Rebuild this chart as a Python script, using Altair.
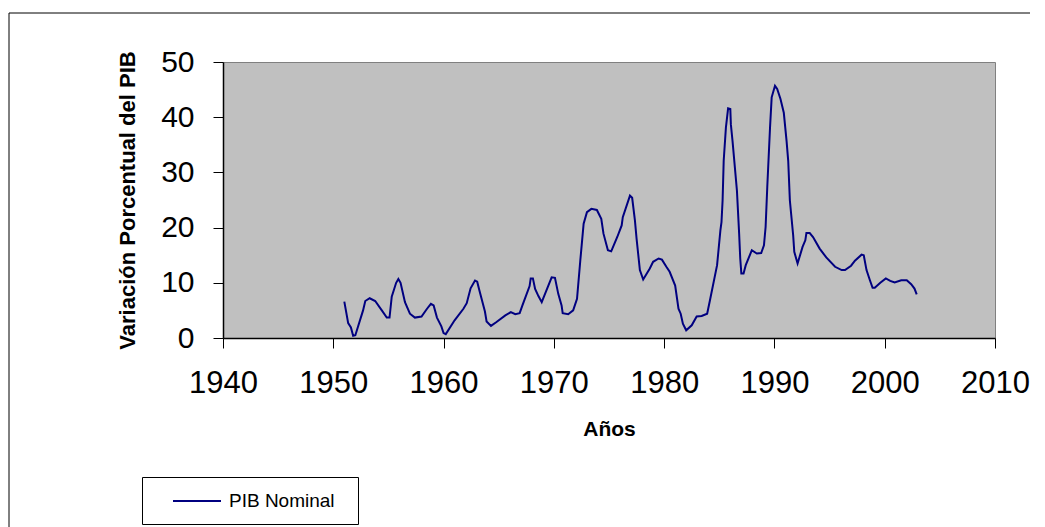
import altair as alt
import pandas as pd

years = [1951.0, 1951.35, 1951.6, 1951.8, 1952.0, 1952.7, 1952.9, 1953.3, 1953.8, 1954.4,
         1954.85, 1955.1, 1955.3, 1955.7, 1955.9, 1956.1, 1956.5, 1956.95, 1957.4, 1958.0,
         1958.5, 1958.85, 1959.1, 1959.4, 1959.8, 1960.0, 1960.2, 1961.0, 1961.8, 1962.1,
         1962.45, 1962.85, 1963.05, 1963.25, 1963.75, 1963.9, 1964.3, 1964.8, 1965.6, 1966.1,
         1966.5, 1966.9, 1967.15, 1967.8, 1967.9, 1968.1, 1968.3, 1968.6, 1968.9, 1969.2,
         1969.8, 1970.1, 1970.4, 1970.7, 1970.8, 1971.3, 1971.75, 1972.1, 1972.4, 1972.7,
         1973.0, 1973.4, 1973.9, 1974.3, 1974.5, 1974.9, 1975.2, 1975.75, 1976.15, 1976.25,
         1976.9, 1977.1, 1977.35, 1977.5, 1977.8, 1978.1, 1978.7, 1979.0, 1979.5, 1979.8,
         1980.2, 1980.5, 1981.0, 1981.3, 1981.5, 1981.7, 1982.0, 1982.5, 1982.95, 1983.4,
         1983.9, 1984.15, 1984.8, 1985.1, 1985.2, 1985.3, 1985.4, 1985.6, 1985.8, 1986.0,
         1986.05, 1986.2, 1986.6, 1986.8, 1986.9, 1987.0, 1987.2, 1987.4, 1987.95, 1988.4,
         1988.8, 1989.05, 1989.2, 1989.35, 1989.6, 1989.75, 1990.05, 1990.25, 1990.55, 1990.85,
         1991.1, 1991.25, 1991.4, 1991.7, 1991.8, 1992.1, 1992.55, 1992.8, 1992.9, 1993.2,
         1993.5, 1994.1, 1994.7, 1995.5, 1996.1, 1996.4, 1996.95, 1997.3, 1997.9, 1998.1,
         1998.35, 1998.65, 1998.9, 1999.1, 1999.6, 2000.1, 2000.5, 2000.9, 2001.5, 2002.0,
         2002.4, 2002.7, 2002.9]

pib_nominal = [6.6, 2.7, 1.9, 0.4, 0.5, 5.0, 6.7, 7.2, 6.7, 5.0,
               3.7, 3.7, 7.5, 10.0, 10.7, 10.0, 6.5, 4.4, 3.7, 3.9,
               5.3, 6.2, 5.9, 3.7, 2.1, 0.9, 0.7, 3.2, 5.3, 6.3,
               9.0, 10.4, 10.2, 8.6, 4.8, 3.0, 2.2, 2.9, 4.1, 4.7,
               4.3, 4.5, 5.9, 9.4, 10.8, 10.8, 8.9, 7.6, 6.5, 8.0,
               11.0, 10.9, 8.0, 5.9, 4.5, 4.3, 5.0, 7.1, 14.1, 20.7,
               22.8, 23.4, 23.2, 21.6, 18.9, 15.9, 15.7, 18.3, 20.4, 21.9,
               25.8, 25.4, 21.3, 18.0, 12.3, 10.6, 12.6, 13.8, 14.4, 14.2,
               12.9, 12.0, 9.5, 5.3, 4.4, 2.6, 1.4, 2.3, 3.9, 4.0,
               4.4, 6.8, 13.2, 19.5, 21.0, 24.9, 32.1, 38.1, 41.6, 41.5,
               38.7, 35.7, 26.7, 18.9, 14.4, 11.7, 11.7, 13.2, 15.9, 15.3,
               15.4, 16.8, 20.1, 27.3, 38.1, 43.6, 45.7, 45.1, 43.3, 40.8,
               35.7, 32.1, 24.9, 18.6, 15.6, 13.5, 16.5, 17.7, 19.0, 19.0,
               18.3, 16.2, 14.6, 12.9, 12.3, 12.3, 13.1, 14.0, 15.1, 15.0,
               12.3, 10.5, 9.1, 9.1, 10.0, 10.8, 10.35, 10.05, 10.45, 10.45,
               9.75, 8.95, 7.9]

x_ticks = [1940, 1950, 1960, 1970, 1980, 1990, 2000, 2010]
y_ticks = [0, 10, 20, 30, 40, 50]
series_name = "PIB Nominal"

df = pd.DataFrame({"Año": years, "Valor": pib_nominal, "Serie": series_name})

FONT = "Liberation Sans"

frame = alt.Chart(pd.DataFrame({"a": [0]})).mark_rect(
    fill=None, stroke="black", strokeWidth=1, clip=False
).encode(
    x=alt.value(-214), x2=alt.value(815),
    y=alt.value(-49), y2=alt.value(480)
)

line = alt.Chart(df).mark_line(strokeWidth=2, clip=True).encode(
    x=alt.X("Año:Q",
            scale=alt.Scale(domain=[1940, 2010], nice=False, zero=False),
            axis=alt.Axis(values=x_ticks, format="d", title="Años",
                          labelFontSize=31, labelPadding=20, tickSize=10,
                          labelFlush=False, labelOverlap=False,
                          titleFontSize=21, titleFontWeight="bold", titlePadding=20,
                          grid=False)),
    y=alt.Y("Valor:Q",
            scale=alt.Scale(domain=[0, 50], nice=False),
            axis=alt.Axis(values=y_ticks, title="Variación Porcentual del PIB",
                          labelFontSize=30, labelPadding=19, tickSize=10,
                          labelFlush=False, labelOverlap=False,
                          titleFontSize=22, titleFontWeight="bold", titlePadding=21,
                          grid=False)),
    color=alt.Color("Serie:N",
                    scale=alt.Scale(domain=[series_name], range=["#000080"]),
                    legend=alt.Legend(title=" ", titleOrient="right", titlePadding=10,
                                      titleFontSize=8,
                                      orient="none", legendX=-81, legendY=415,
                                      symbolType="M-2.4,0H2.4", symbolSize=400,
                                      symbolStrokeWidth=2, labelFontSize=19,
                                      labelFont=FONT, padding=13, symbolOffset=31,
                                      strokeColor="black", fillColor="white",
                                      labelOffset=21))
)

chart = alt.layer(frame, line).properties(
    width=772, height=276,
    padding={"left": 215, "top": 54, "right": 35, "bottom": 190},
    autosize=alt.AutoSizeParams(type="none"),
    background="white"
).configure_view(
    fill="#C0C0C0", stroke="#808080", strokeWidth=1
).configure_axis(
    labelFont=FONT, titleFont=FONT, labelColor="black", titleColor="black",
    domainColor="black", tickColor="black", domainWidth=1.5, tickWidth=1
)

chart.save("out.html", embed_options={"renderer": "svg", "actions": False})
